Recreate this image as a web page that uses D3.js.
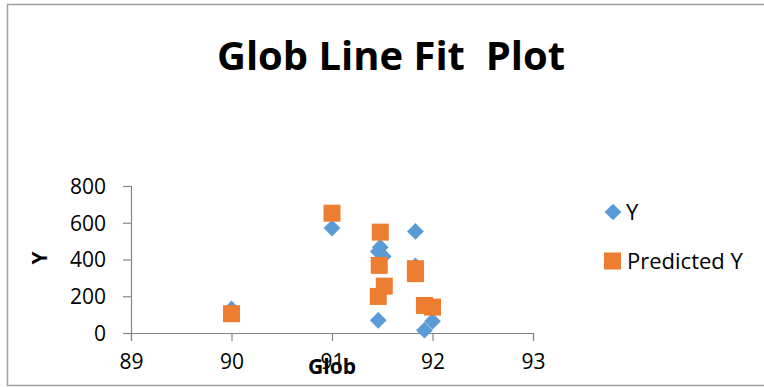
<!DOCTYPE html>
<html>
<head>
<meta charset="utf-8">
<script src="https://cdn.jsdelivr.net/npm/d3@7"></script>
<style>
body { margin: 0; background: #fff; }
text { font-family: "Open Sans", sans-serif; }
</style>
</head>
<body>
<div id="chart"></div>
<script>
// data
glob_x = [90, 91, 91.46, 91.48, 91.51, 91.46, 91.83, 91.83, 91.92, 92.0];
y_values = [131, 571, 444, 467, 417, 69, 553, 365, 15, 64];
glob_pred_x = [90, 91, 91.46, 91.48, 91.52, 91.47, 91.83, 91.83, 91.92, 92.0];
predicted_y = [105, 652, 199, 549, 255, 368, 350, 323, 150, 141];
x_ticks = [89, 90, 91, 92, 93];
y_ticks = [0, 200, 400, 600, 800];

// chart settings
chart_width = 764;
chart_height = 387;
blue = '#5B9BD5';
orange = '#ED7D31';
axis_color = '#868686';

var svg = d3.select('#chart')
	.append('svg')
	.attr('width', chart_width)
	.attr('height', chart_height);

// outer border
svg.append('path')
	.attr('d', 'M' + 780 + ',4.5H7.5V385.5H780')
	.attr('fill', 'none')
	.attr('stroke', '#a0a0a0')
	.attr('stroke-width', 1.5);

// scales
x_scale = d3.scaleLinear().domain([89, 93]).range([131, 533]);
y_scale = d3.scaleLinear().domain([0, 800]).range([333, 186]);

// title
svg.append('text')
	.attr('x', 391)
	.attr('y', 70)
	.attr('text-anchor', 'middle')
	.attr('font-weight', 'bold')
	.attr('font-size', 39)
	.attr('textLength', 348)
	.attr('lengthAdjust', 'spacingAndGlyphs')
	.style('white-space', 'pre')
	.text('Glob Line Fit  Plot');

// axes
var x_axis = svg.append('g')
	.attr('transform', 'translate(0,' + y_scale(0) + ')')
	.call(d3.axisBottom(x_scale).tickValues(x_ticks).tickSize(8).tickPadding(13).tickFormat(d3.format('d')));

var y_axis = svg.append('g')
	.attr('transform', 'translate(' + x_scale(89) + ',0)')
	.call(d3.axisLeft(y_scale).tickValues(y_ticks).tickSize(8).tickPadding(17).tickFormat(d3.format('d')));

[x_axis, y_axis].forEach(function (g) {
	g.select('.domain').attr('stroke', axis_color).attr('stroke-width', 1.2);
	g.selectAll('.tick line').attr('stroke', axis_color).attr('stroke-width', 1.2);
	g.selectAll('.tick text')
		.attr('fill', '#000')
		.attr('font-size', 21)
		.style('font-family', '"Open Sans", sans-serif');
});
y_axis.selectAll('.tick text').attr('dy', '0.35em');

// axis titles
svg.append('text')
	.attr('x', 332)
	.attr('y', 374)
	.attr('text-anchor', 'middle')
	.attr('font-weight', 'bold')
	.attr('font-size', 21)
	.text('Glob');

svg.append('text')
	.attr('transform', 'translate(47,258) rotate(-90)')
	.attr('text-anchor', 'middle')
	.attr('font-weight', 'bold')
	.attr('font-size', 21)
	.text('Y');

// markers
var diamond = d3.symbol().type(d3.symbolSquare).size(140);

svg.append('g')
	.selectAll('path')
	.data(y_values)
	.enter()
	.append('path')
	.attr('d', diamond)
	.attr('transform', (d, i) => 'translate(' + x_scale(glob_x[i]) + ',' + y_scale(d) + ') rotate(45)')
	.attr('fill', blue);

svg.append('g')
	.selectAll('rect')
	.data(predicted_y)
	.enter()
	.append('rect')
	.attr('x', (d, i) => x_scale(glob_pred_x[i]) - 8.5)
	.attr('y', (d) => y_scale(d) - 8.5)
	.attr('width', 17)
	.attr('height', 17)
	.attr('fill', orange);

// legend
var legend = svg.append('g');
legend.append('path')
	.attr('d', d3.symbol().type(d3.symbolSquare).size(140))
	.attr('transform', 'translate(613,212) rotate(45)')
	.attr('fill', blue);
legend.append('text')
	.attr('x', 626)
	.attr('y', 212)
	.attr('dy', '0.35em')
	.attr('font-size', 22)
	.text('Y');
legend.append('rect')
	.attr('x', 604)
	.attr('y', 252.5)
	.attr('width', 17)
	.attr('height', 17)
	.attr('fill', orange);
legend.append('text')
	.attr('x', 627)
	.attr('y', 261)
	.attr('dy', '0.35em')
	.attr('font-size', 22)
	.text('Predicted Y');
</script>
</body>
</html>
